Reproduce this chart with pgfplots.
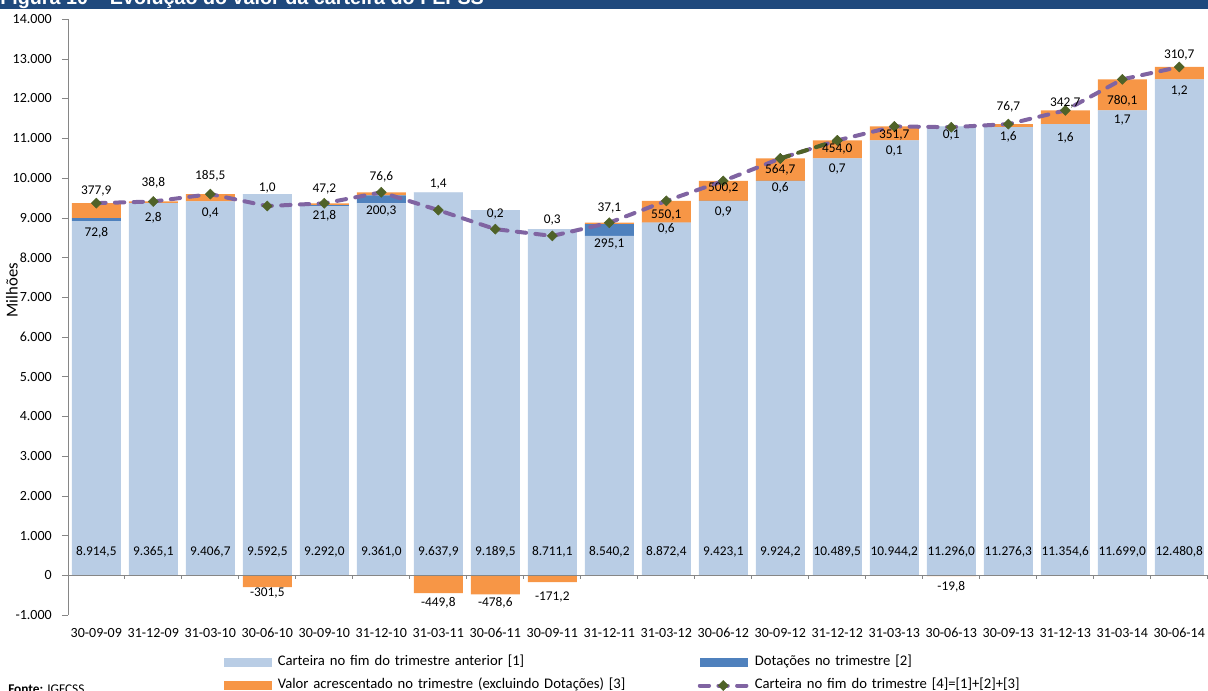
\documentclass[border=0pt]{standalone}
\usepackage{fontspec}
\setmainfont{Carlito}
\newfontfamily\arialfont{Liberation Sans}
\usepackage{pgfplots}
\usepackage{pgfplotstable}
\pgfplotsset{compat=1.18}

\definecolor{lightbar}{HTML}{B9CDE5}
\definecolor{dotblue}{HTML}{4F81BD}
\definecolor{addorange}{HTML}{F79646}
\definecolor{linepurple}{HTML}{8064A2}
\definecolor{markgreen}{HTML}{4F6228}
\definecolor{axisgray}{HTML}{868686}
\definecolor{titleblue}{HTML}{1F497D}

\newcommand\tickfont{\fontsize{10.5pt}{12pt}\selectfont}
\newcommand\labfont{\fontsize{10pt}{12pt}\selectfont}

% [1] carteira anterior, [2] dotacoes, [3] valor acrescentado (split pos/neg), [4] total
% upy/lowy = where the two value labels of each column sit
\pgfplotstableread{
x  s1       dot    vapos  vaneg   tot      upy    uplab  lowy   lowlab
0  8914.5   72.8   377.9  0       9365.2   9673   377.9  8615   72.8
1  9365.1   2.8    38.8   0       9406.7   9874   38.8   8993   2.8
2  9406.7   0.4    185.5  0       9592.6   10050  185.5  9118   0.4
3  9592.5   1.0    0      -301.5  9292.0   9755   1.0    -445   -301.5
4  9292.0   21.8   47.2   0       9361.0   9730   47.2   9043   21.8
5  9361.0   200.3  76.6   0       9637.9   10024  76.6   9169   200.3
6  9637.9   1.4    0      -449.8  9189.5   9849   1.4    -697   -449.8
7  9189.5   0.2    0      -478.6  8711.1   9093   0.2    -697   -478.6
8  8711.1   0.3    0      -171.2  8540.2   8942   0.3    -546   -171.2
9  8540.2   295.1  37.1   0       8872.4   9245   37.1   8340   295.1
10 8872.4   0.6    550.1  0       9423.1   9067   550.1  8717   0.6
11 9423.1   0.9    500.2  0       9924.2   9755   500.2  9143   0.9
12 9924.2   0.6    564.7  0       10489.5  10208  564.7  9747   0.6
13 10489.5  0.7    454.0  0       10944.2  10736  454.0  10225  0.7
14 10944.2  0.1    351.7  0       11296.0  11080  351.7  10678  0.1
15 11296.0  0.1    0      -19.8   11276.3  11083  0.1    -294   -19.8
16 11276.3  1.6    76.7   0       11354.6  11788  76.7   11031  1.6
17 11354.6  1.6    342.7  0       11698.9  11889  342.7  11006  1.6
18 11699.0  1.7    780.1  0       12480.8  11944  780.1  11459  1.7
19 12480.8  1.2    310.7  0       12792.7  13094  310.7  12185  1.2
}\carteira

\pgfplotsset{
  chart/.style={at={(50.85pt,57pt)}, anchor=south west, scale only axis,
    width=855pt, height=447pt, xmin=-0.5, xmax=19.5, ymin=-1000, ymax=14000},
  vallabels/.style={only marks, mark=none, forget plot, point meta=explicit,
    nodes near coords={\pgfmathprintnumber[fixed,fixed zerofill,precision=1,use comma,1000 sep={.},assume math mode=true]{\pgfplotspointmeta}},
    every node near coord/.append style={anchor=center, font=\labfont, text=black, inner sep=0pt}},
  totline/.style={sharp plot, line width=3pt, line cap=round, dash pattern=on 7pt off 7pt,
    mark=square*, mark size=2.65pt, mark options={solid, rotate=45, fill=markgreen, draw=markgreen, line width=0.4pt}},
  longline legend/.style={legend image code/.code={\draw[mark repeat=2,mark phase=2,##1] plot coordinates {(0pt,0pt) (17.6pt,0pt) (35.25pt,0pt)};}},
  lightbox legend/.style={legend image code/.code={\fill[lightbar] (0pt,-3pt) rectangle (35.25pt,3pt);}},
  bluebox legend/.style={legend image code/.code={\fill[dotblue] (0pt,-3pt) rectangle (35.25pt,3pt);}},
  orangebox legend/.style={legend image code/.code={\fill[addorange] (0pt,-3pt) rectangle (35.25pt,3pt);}},
}

\begin{document}
\begin{tikzpicture}
\useasboundingbox (0,0) rectangle (906pt,518.25pt);
\fill[titleblue] (-2pt,511.7pt) rectangle (908pt,540pt);
\node[anchor=base west, inner sep=0pt, text=white, font=\arialfont\bfseries\fontsize{14.8pt}{16pt}\selectfont]
  at (0pt,514.5pt) {Figura 10 – Evolução do valor da carteira do FEFSS};
\node[anchor=base west, inner sep=0pt, font=\fontsize{10pt}{12pt}\selectfont]
  at (6pt,-2.25pt) {\textbf{Fonte:} IGFCSS};

\begin{axis}[chart,
  ybar stacked, bar width=0.86,
  axis x line*=bottom, axis y line*=left,
  x axis line style={draw=none}, y axis line style={axisgray},
  tick align=outside, major tick length=4.5pt,
  xtick={0,...,19}, xtick style={draw=none},
  xticklabels={30-09-09,31-12-09,31-03-10,30-06-10,30-09-10,31-12-10,31-03-11,30-06-11,30-09-11,31-12-11,31-03-12,30-06-12,30-09-12,31-12-12,31-03-13,30-06-13,30-09-13,31-12-13,31-03-14,30-06-14},
  xticklabel style={font=\tickfont, yshift=-2pt},
  ytick={-1000,0,...,14000}, ytick style={axisgray},
  scaled y ticks=false,
  yticklabel={\pgfmathprintnumber[use comma,1000 sep={.},assume math mode=true]{\tick}},
  yticklabel style={font=\tickfont, xshift=-4pt},
  ylabel={Milhões},
  ylabel style={at={(axis description cs:-0.049,0.545)}, anchor=center, font=\fontsize{12.5pt}{14pt}\selectfont},
]
\addplot[fill=lightbar, draw=none] table[x=x,y=s1] {\carteira};
\addplot[fill=dotblue, draw=none] table[x=x,y=dot] {\carteira};
\addplot[fill=addorange, draw=none] table[x=x,y=vapos] {\carteira};
\end{axis}

\begin{axis}[chart, hide axis, clip=false,
  legend columns=2,
  legend style={at={(axis description cs:0.137,-0.067)}, anchor=north west,
    draw=none, fill=none, inner sep=0pt, font=\fontsize{11pt}{13pt}\selectfont,
    nodes={inner sep=0pt, text width=300pt, text height=8pt, text depth=3pt, align=left},
    row sep=6.25pt,
    /tikz/every odd column/.append style={column sep=4.5pt},
    /tikz/every even column/.append style={column sep=15pt}},
]
\addplot[ybar, bar width=0.86, bar shift=0pt, fill=addorange, draw=none, forget plot]
  table[x=x,y=vaneg] {\carteira};
\draw[axisgray, line width=0.75pt] (axis cs:-0.5,0) -- (axis cs:19.5,0);
\pgfplotsinvokeforeach{0.5,1.5,...,19.5}{\draw[axisgray, line width=0.75pt] (axis cs:#1,0) -- ++(0pt,-3pt);}

\addlegendimage{lightbox legend}
\addlegendentry{Carteira no fim do trimestre anterior [1]}
\addlegendimage{bluebox legend}
\addlegendentry{Dotações no trimestre [2]}
\addlegendimage{orangebox legend}
\addlegendentry{Valor acrescentado no trimestre (excluindo Dotações) [3]}

\addplot[totline, linepurple, longline legend] table[x=x,y=tot] {\carteira};
\addlegendentry{Carteira no fim do trimestre [4]=[1]+[2]+[3]}
\addplot[totline, markgreen, forget plot, restrict x to domain=12:13] table[x=x,y=tot] {\carteira};

\addplot[vallabels] table[x=x,y expr=586,meta=s1] {\carteira};
\addplot[vallabels] table[x=x,y=upy,meta=uplab] {\carteira};
\addplot[vallabels] table[x=x,y=lowy,meta=lowlab] {\carteira};
\end{axis}
\end{tikzpicture}
\end{document}
